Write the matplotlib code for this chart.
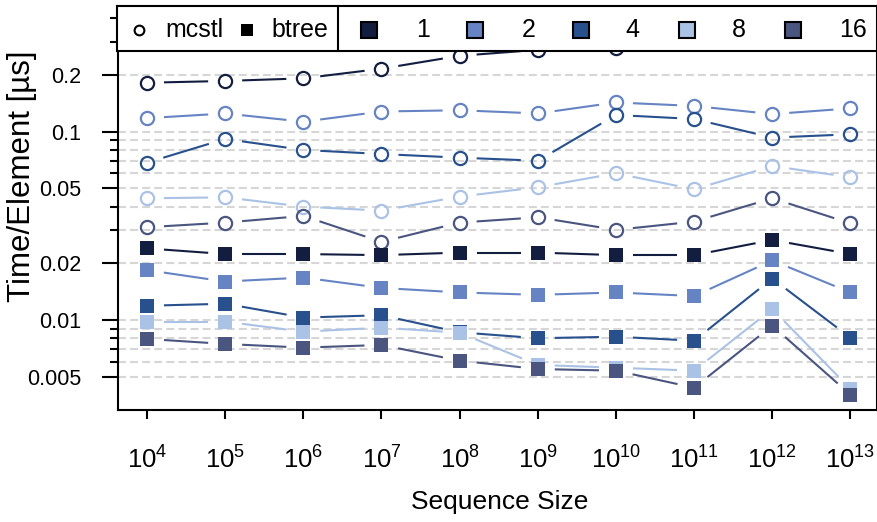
import matplotlib
matplotlib.use('Agg')
import matplotlib.pyplot as plt
import numpy as np
from matplotlib import font_manager
from matplotlib.patches import Rectangle
from matplotlib.lines import Line2D
from matplotlib.ticker import FixedLocator, FixedFormatter, NullFormatter, NullLocator

plt.rcParams['font.family'] = ['Liberation Sans', 'DejaVu Sans']

# sequence sizes (x axis)
sizes = [1e4, 1e5, 1e6, 1e7, 1e8, 1e9, 1e10, 1e11, 1e12, 1e13]
size_exp = [4, 5, 6, 7, 8, 9, 10, 11, 12, 13]

threads = ['1', '2', '4', '8', '16']
colors = ['#131d40', '#6683c3', '#27508d', '#aac2e6', '#4a5580']

# time per element [us], mcstl
mcstl_1 = [0.182, 0.186, 0.192, 0.216, 0.253, 0.272, 0.278, 0.34, 0.37, 0.35]
mcstl_2 = [0.118, 0.125, 0.113, 0.128, 0.130, 0.125, 0.143, 0.137, 0.124, 0.133]
mcstl_4 = [0.0685, 0.0915, 0.080, 0.0761, 0.0728, 0.0701, 0.1227, 0.1168, 0.093, 0.0969]
mcstl_8 = [0.0443, 0.0448, 0.040, 0.0381, 0.0452, 0.0507, 0.0601, 0.0494, 0.0657, 0.0573]
mcstl_16 = [0.0311, 0.0329, 0.0357, 0.026, 0.0329, 0.0351, 0.0301, 0.0333, 0.0443, 0.0326]

# time per element [us], btree
btree_1 = [0.024, 0.0224, 0.0224, 0.0221, 0.0228, 0.0228, 0.0221, 0.0221, 0.0266, 0.0224]
btree_2 = [0.0184, 0.016, 0.0168, 0.0148, 0.0140, 0.0136, 0.0140, 0.0134, 0.0207, 0.0140]
btree_4 = [0.0119, 0.0122, 0.0103, 0.0106, 0.0086, 0.0080, 0.00815, 0.00776, 0.0166, 0.00805]
btree_8 = [0.0098, 0.0098, 0.00867, 0.0091, 0.00856, 0.00577, 0.00558, 0.00538, 0.01144, 0.0043]
btree_16 = [0.00793, 0.00746, 0.00713, 0.00737, 0.00608, 0.00549, 0.00538, 0.00437, 0.00933, 0.00401]

mcstl = [mcstl_1, mcstl_2, mcstl_4, mcstl_8, mcstl_16]
btree = [btree_1, btree_2, btree_4, btree_8, btree_16]

y_major = [0.005, 0.01, 0.02, 0.05, 0.1, 0.2]
y_major_labels = ['0.005', '0.01', '0.02', '0.05', '0.1', '0.2']
y_minor = [0.006, 0.007, 0.008, 0.009, 0.03, 0.04, 0.06, 0.07, 0.08, 0.09, 0.3, 0.4]

# tall x-axis text: use the narrow face if it is there
try:
    font_manager.findfont('Liberation Sans Narrow', fallback_to_default=False)
    xfam, xtick_fs, xlab_fs = 'Liberation Sans Narrow', 21, 22
except Exception:
    xfam, xtick_fs, xlab_fs = 'Liberation Sans', 18.5, 19

W, H = 878, 522


def fx(x):
    return x / W


def fy(y):
    return 1 - y / H


fig = plt.figure(figsize=(W / 100, H / 100), dpi=100)
ax = fig.add_axes([fx(118), fy(410), (877 - 118) / W, (410 - 6.5) / H])
ax.set_xscale('log')
ax.set_yscale('log')
ax.set_xlim(10 ** 3.629, 10 ** 13.34)
ax.set_ylim(0.003326, 0.4623)


def gap_line(xs, ys, color, gap=17):
    # gnuplot-like linespoints: segments stop short of the points
    pts = ax.transData.transform(np.column_stack([xs, ys]))
    inv = ax.transData.inverted()
    for p0, p1 in zip(pts[:-1], pts[1:]):
        d = p1 - p0
        L = np.hypot(*d)
        if L <= 2 * gap:
            continue
        u = d / L
        seg = inv.transform([p0 + u * gap, p1 - u * gap])
        ax.plot(seg[:, 0], seg[:, 1], color=color, lw=1.5,
                solid_capstyle='butt', zorder=2)


for vals, c in zip(mcstl, colors):
    gap_line(sizes, vals, c)
    ax.plot(sizes, vals, ls='none', marker='o', ms=9.5, mfc='none',
            mec=c, mew=1.6, zorder=3)
for vals, c in zip(btree, colors):
    gap_line(sizes, vals, c)
    ax.plot(sizes, vals, ls='none', marker='s', ms=10, mfc=c,
            mec=c, mew=0, zorder=3)

plt.rcParams['mathtext.fontset'] = 'custom'
plt.rcParams['mathtext.rm'] = xfam
size_labels = [r'$\mathregular{10^{%d}}$' % e for e in size_exp]
ax.xaxis.set_major_locator(FixedLocator(sizes))
ax.xaxis.set_major_formatter(FixedFormatter(size_labels))
ax.xaxis.set_minor_locator(NullLocator())
ax.yaxis.set_major_locator(FixedLocator(y_major))
ax.yaxis.set_major_formatter(FixedFormatter(y_major_labels))
ax.yaxis.set_minor_locator(FixedLocator(y_minor))
ax.yaxis.set_minor_formatter(NullFormatter())

ax.tick_params(axis='y', which='major', direction='out', length=11.5,
               width=1.5, labelsize=15.5, pad=15)
ax.tick_params(axis='y', which='minor', direction='out', length=6, width=1.5)
ax.tick_params(axis='x', which='major', direction='out', length=6.5,
               width=1.5, labelsize=xtick_fs, pad=20)
for lab in ax.get_xticklabels():
    lab.set_family(xfam)

ax.yaxis.grid(True, which='both', color='#d6d6d6', lw=1.5,
              linestyle=(0, (3.8, 2)))
ax.set_axisbelow(True)
for s in ax.spines.values():
    s.set_linewidth(1.5)

fig.text(fx(22), fy(176), 'Time/Element [\u00b5s]', rotation=90,
         ha='center', va='center', fontsize=22.5)
fig.text(fx(500), fy(502), 'Sequence Size', ha='center', va='center',
         fontsize=xlab_fs, family=xfam)

# key boxes on top of the plot
for x0, x1 in [(117.5, 338.5), (338.5, 877)]:
    fig.add_artist(Rectangle((fx(x0), fy(50.5)), (x1 - x0) / W, 44 / H,
                             transform=fig.transFigure, fc='white',
                             ec='black', lw=1.5, zorder=5))

fig.add_artist(Line2D([fx(139.3)], [fy(30)], transform=fig.transFigure,
                      marker='o', ms=7, mfc='none', mec='black', mew=1.5,
                      zorder=6))
fig.text(fx(165), fy(30), 'mcstl', ha='left', va='center', fontsize=18,
         zorder=6)
fig.add_artist(Line2D([fx(246.7)], [fy(30)], transform=fig.transFigure,
                      marker='s', ms=8, mfc='black', mec='black', mew=0,
                      zorder=6))
fig.text(fx(271.7), fy(30), 'btree', ha='left', va='center', fontsize=18,
         zorder=6)

sq_x = [369.3, 475, 580.7, 686.7, 792.7]
lab_x = [422.7, 528.3, 632.7, 739.3, 853.3]
for t, c, sx, lx in zip(threads, colors, sq_x, lab_x):
    fig.add_artist(Line2D([fx(sx)], [fy(30)], transform=fig.transFigure,
                          marker='s', ms=11.5, mfc=c, mec='black', mew=1.5,
                          zorder=6))
    fig.text(fx(lx), fy(30), t, ha='center', va='center', fontsize=18,
             zorder=6)

fig.savefig('out.png', dpi=100)
